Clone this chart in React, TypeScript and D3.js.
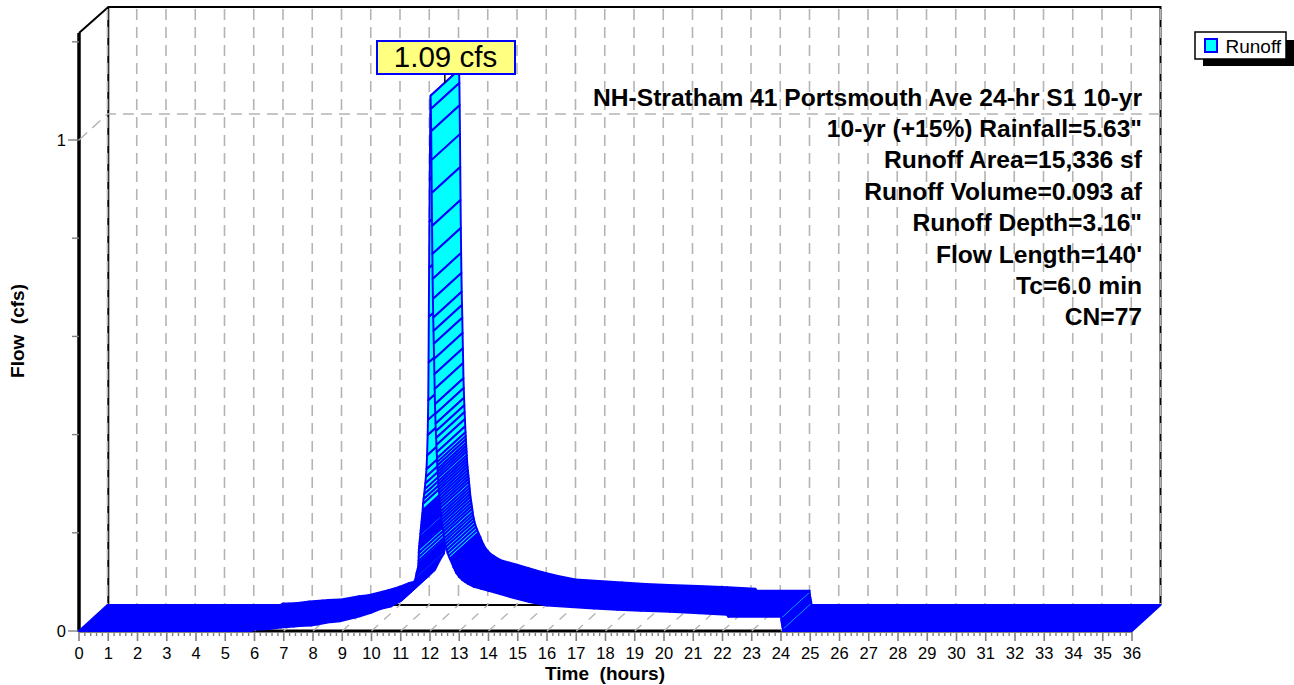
import React from "react";
import * as d3 from "d3";

// Flow data (hours, cfs). Flat stretches are sparse, the steep limbs are one hatch per entry.
const hours = [
  0, 5.9, 6.0, 6.2, 6.5, 6.9, 7.35, 7.55, 7.93, 8.14, 8.6, 8.92, 9.4, 9.6, 9.98, 10.32, 10.66, 11.0, 11.2, 11.35, 11.5,
  11.52, 11.54, 11.56, 11.58, 11.6, 11.604, 11.608, 11.612, 11.616, 11.62, 11.63, 11.64, 11.65, 11.66, 11.67, 11.68, 11.69, 11.7, 11.71, 11.72, 11.73, 11.74, 11.75, 11.76,
  11.78, 11.8, 11.82, 11.84, 11.86, 11.88, 11.9, 11.92, 11.93,
  11.94, 11.95, 11.96, 11.97, 11.98, 11.99, 12.0, 12.01, 12.02,
  12.03, 12.04, 12.05, 12.06, 12.07, 12.08, 12.09, 12.1, 12.11, 12.12, 12.13, 12.14, 12.15, 12.16, 12.17, 12.18, 12.19, 12.2,
  12.21, 12.22, 12.23, 12.24, 12.246, 12.252, 12.258, 12.264, 12.27, 12.276, 12.282, 12.288, 12.294, 12.3,
  12.31, 12.32, 12.33, 12.34, 12.35, 12.36, 12.37, 12.38, 12.39, 12.4, 12.41, 12.425, 12.44, 12.455, 12.47, 12.485, 12.5, 12.52, 12.54, 12.57, 12.6, 12.64, 12.68,
  12.75, 12.8, 12.85, 12.9, 13.0, 13.1, 13.2, 13.3, 13.5, 13.75, 14.0, 14.4, 14.87, 15.4, 16.0, 16.8, 17.6, 18.4, 19.2, 20.2, 21.2, 22.15, 22.2,
  24.0, 24.01, 24.02, 24.03, 24.04, 24.05, 24.06, 24.07, 36,
];
const flow = [
  0, 0, 0.003, 0.003, 0.004, 0.007, 0.009, 0.01, 0.011, 0.013, 0.018, 0.02, 0.027, 0.03, 0.037, 0.045, 0.05, 0.061, 0.072, 0.09, 0.105,
  0.112, 0.118, 0.122, 0.127, 0.132, 0.137, 0.143, 0.151, 0.159, 0.167, 0.173, 0.179, 0.185, 0.191, 0.198, 0.204, 0.21, 0.216, 0.222, 0.228, 0.234, 0.24, 0.246, 0.259,
  0.269, 0.279, 0.289, 0.301, 0.314, 0.33, 0.358, 0.399, 0.43,
  0.47, 0.547, 0.64, 0.74, 0.834, 0.92, 0.985, 1.05, 1.09,
  1.063, 1.018, 0.959, 0.892, 0.825, 0.768, 0.717, 0.676, 0.638, 0.611, 0.585, 0.554, 0.523, 0.493, 0.462, 0.442, 0.422, 0.407,
  0.393, 0.379, 0.364, 0.352, 0.344, 0.337, 0.33, 0.324, 0.318, 0.312, 0.305, 0.299, 0.293, 0.287,
  0.281, 0.275, 0.269, 0.263, 0.257, 0.251, 0.244, 0.238, 0.232, 0.226, 0.22, 0.214, 0.208, 0.202, 0.196, 0.189, 0.183, 0.177, 0.171, 0.165, 0.159, 0.153, 0.147,
  0.138, 0.13, 0.124, 0.118, 0.11, 0.104, 0.1, 0.096, 0.09, 0.086, 0.082, 0.075, 0.067, 0.059, 0.052, 0.049, 0.046, 0.043, 0.041, 0.039, 0.036, 0.033, 0.029,
  0.029, 0.0225, 0.0185, 0.015, 0.0115, 0.008, 0.0065, 0, 0,
];
const xTickLabels = d3.range(0, 37).map(String);
const yTickValues = [0, 1];
const yMinorValues = [0.2, 0.4, 0.6, 0.8, 1.2];
const infoLines = [
  "NH-Stratham 41 Portsmouth Ave 24-hr S1 10-yr",
  '10-yr (+15%) Rainfall=5.63"',
  "Runoff Area=15,336 sf",
  "Runoff Volume=0.093 af",
  'Runoff Depth=3.16"',
  "Flow Length=140'",
  "Tc=6.0 min",
  "CN=77",
];
const peakLabel = "1.09 cfs";
const peakHour = 12.02;
const peakFlow = 1.09;

const FONT = "'Liberation Sans', Arial, sans-serif";
const BLUE = "#0000ff";
const CYAN = "#00ffff";
const GRID = "#b4b4b4";
const TICK = "#808080";

const x = d3.scaleLinear().domain([0, 36]).range([79, 1132]);
const y = d3.scaleLinear().domain([0, 1]).range([631, 140]);
const DX = 28.5;
const DY = -26;

function ribbon() {
  const quads: { d: string; fill: string; key: number }[] = [];
  for (let i = 0; i < hours.length - 1; i++) {
    const x0 = x(hours[i]), x1 = x(hours[i + 1]);
    const y0 = y(flow[i]), y1 = y(flow[i + 1]);
    const d = `M${x0},${y0}L${x1},${y1}L${x1 + DX},${y1 + DY}L${x0 + DX},${y0 + DY}Z`;
    // spacing between neighbouring hatch lines, measured across the hatch direction
    const len = Math.hypot(DX, DY);
    const perp = Math.abs((x1 - x0) * DY - (y1 - y0) * DX) / len;
    const sparse = hours[i + 1] - hours[i] <= 0.041 && perp > 1.9;
    quads.push({ d, fill: sparse ? CYAN : BLUE, key: i });
  }
  return quads;
}

export default function App() {
  const hourTicks = d3.range(0, 37);
  const minor = d3.range(0, 36 * 5 + 1).map((i) => i / 5);
  const [gridTop, backBottom, backRight] = [7, 631 + DY, x(36) + DX];
  return (
    <svg
      width={1294}
      height={685}
      style={{ position: "absolute", left: 0, top: 0, fontFamily: FONT }}
    >
      <rect width={1294} height={685} fill="#fff" />
      {/* frame */}
      <path d={`M${x(0)},33L${x(0) + DX + 0.8},${gridTop}L${backRight},${gridTop}L${backRight},${backBottom}`} fill="none" stroke="#000" strokeWidth={2} />
      <line x1={x(0) + DX + 0.8} x2={x(0) + DX + 0.8} y1={gridTop} y2={backBottom} stroke="#000" strokeWidth={2} />
      <line x1={x(0) + DX} x2={backRight} y1={backBottom} y2={backBottom} stroke="#000" strokeWidth={2} />
      <line x1={x(0)} x2={x(0)} y1={33} y2={632} stroke="#000" strokeWidth={3.5} />
      <line x1={x(0)} x2={x(36)} y1={631} y2={631} stroke="#000" strokeWidth={3} />
      {/* back wall vertical grid */}
      {hourTicks.map((h) => (
        <line key={h} x1={x(h) + DX} x2={x(h) + DX} y1={gridTop + 2} y2={backBottom} stroke={GRID} strokeWidth={1.6} strokeDasharray="11 7" />
      ))}
      {/* y=1 grid */}
      <path
        d={`M${x(0)},${y(1)}L${x(0) + DX},${y(1) + DY}L${backRight},${y(1) + DY}`}
        fill="none"
        stroke={GRID}
        strokeWidth={1.4}
        strokeDasharray="11 7"
      />
      {/* floor grid */}
      {hourTicks.map((h) => (
        <line key={h} x1={x(h)} x2={x(h) + DX} y1={631} y2={backBottom} stroke={GRID} strokeWidth={1.4} strokeDasharray="9 8" />
      ))}

      {/* x ticks */}
      {minor.map((m, i) => (
        <line key={i} x1={x(m)} x2={x(m)} y1={632} y2={i % 5 === 0 ? 641 : 636} stroke={TICK} strokeWidth={i % 5 === 0 ? 1.6 : 1.4} />
      ))}
      {xTickLabels.map((t, i) => (
        <text key={t} x={x(i)} y={659} fontSize={16.5} textAnchor="middle" fill="#000">
          {t}
        </text>
      ))}
      {/* y ticks */}
      {yTickValues.map((v) => (
        <g key={v}>
          <line x1={68} x2={x(0)} y1={y(v)} y2={y(v)} stroke={TICK} strokeWidth={1.4} />
          <text x={66} y={y(v) + 6} fontSize={16.5} textAnchor="end" fill="#000">
            {v}
          </text>
        </g>
      ))}
      {yMinorValues.map((v) => (
        <line key={v} x1={72} x2={x(0)} y1={y(v)} y2={y(v)} stroke={TICK} strokeWidth={1.4} />
      ))}

      {/* hydrograph ribbon */}
      {ribbon().map((q) => (
        <path key={q.key} d={q.d} fill={q.fill} stroke={BLUE} strokeWidth={1.95} strokeLinejoin="round" />
      ))}

      {/* peak callout */}
      <line x1={x(peakHour) + DX / 2} x2={x(peakHour) + DX / 2} y1={74} y2={y(peakFlow) + DY / 2} stroke="#000" strokeWidth={1.5} />
      <rect x={377} y={41} width={138} height={33} fill="#ffff80" stroke={BLUE} strokeWidth={2} />
      <text x={445.5} y={67} fontSize={29.5} textAnchor="middle" fill="#000">
        {peakLabel}
      </text>

      {/* info block */}
      {infoLines.map((l, i) => (
        <text key={l} x={1142} y={105.5 + i * 31.4} fontSize={24.6} fontWeight="bold" textAnchor="end" fill="#000">
          {l}
        </text>
      ))}

      {/* axis titles */}
      <text x={605} y={680} fontSize={19} fontWeight="bold" textAnchor="middle" fill="#000" xmlSpace="preserve">
        Time  (hours)
      </text>
      <text transform="translate(23.5,331) rotate(-90)" fontSize={19} fontWeight="bold" textAnchor="middle" fill="#000" xmlSpace="preserve">
        Flow  (cfs)
      </text>

      {/* legend */}
      <rect x={1203} y={40} width={91} height={26} fill="#000" />
      <rect x={1195} y={32} width={91} height={27} fill="#fff" stroke="#000" strokeWidth={1.5} />
      <rect x={1205} y={39} width={12} height={13} fill={CYAN} stroke={BLUE} strokeWidth={2} />
      <text x={1225.5} y={52.5} fontSize={19} fill="#000">
        Runoff
      </text>
    </svg>
  );
}
